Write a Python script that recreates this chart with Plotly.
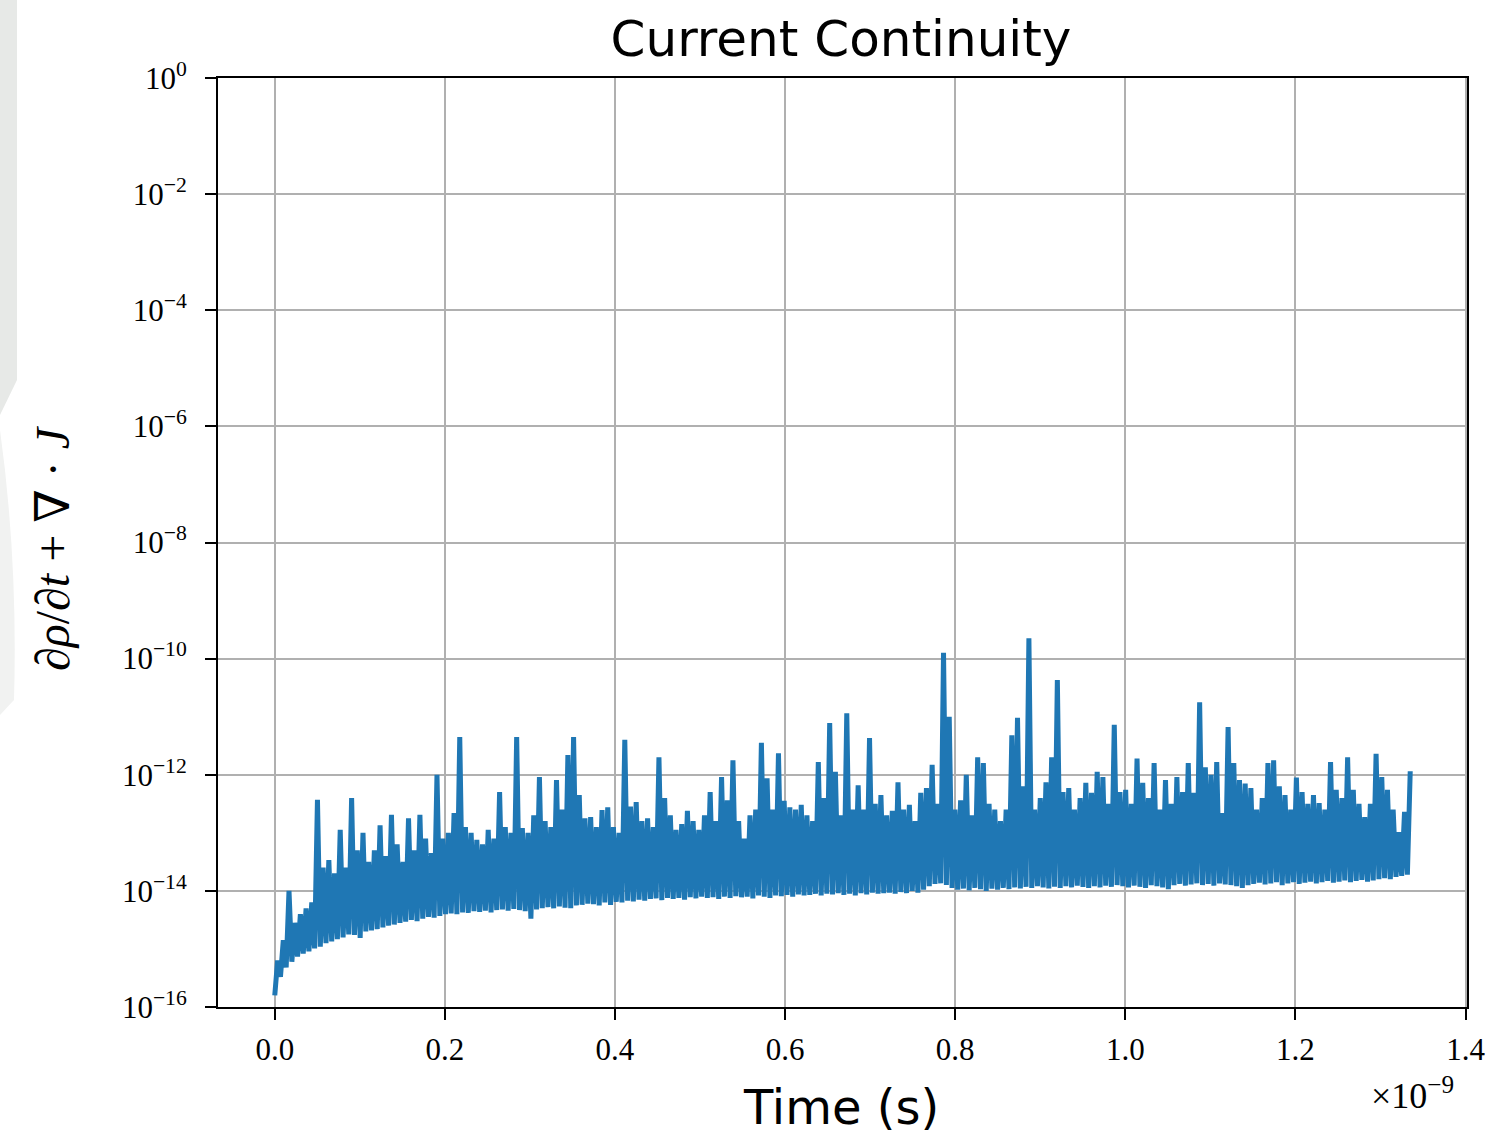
import numpy as np
import plotly.graph_objects as go

# Time span of the simulation (units of 1e-9 s)
t_end_ns = 1.335

# log10 of the residual: alternating lower-band / upper-band samples
low_exp = [
    -15.8, -15.48, -15.32, -15.22, -15.13, -15.08, -15.04, -14.99, -14.96, -14.9,
    -14.87, -14.83, -14.8, -14.75, -14.76, -14.81, -14.7, -14.68, -14.66, -14.63,
    -14.6, -14.58, -14.55, -14.53, -14.5, -14.52, -14.48, -14.45, -14.46, -14.43,
    -14.4, -14.39, -14.4, -14.37, -14.38, -14.35, -14.36, -14.34, -14.37, -14.33,
    -14.32, -14.34, -14.31, -14.33, -14.35, -14.48, -14.32, -14.3, -14.28, -14.3,
    -14.27, -14.29, -14.3, -14.25, -14.24, -14.22, -14.23, -14.25, -14.2, -14.24,
    -14.19, -14.2, -14.17, -14.18, -14.15, -14.17, -14.14, -14.13, -14.16, -14.12,
    -14.14, -14.12, -14.15, -14.11, -14.13, -14.1, -14.12, -14.11, -14.14, -14.1,
    -14.12, -14.09, -14.11, -14.1, -14.13, -14.08, -14.1, -14.12, -14.08, -14.09,
    -14.07, -14.1, -14.06, -14.08, -14.07, -14.05, -14.08, -14.05, -14.06, -14.04,
    -14.07, -14.05, -14.08, -14.04, -14.06, -14.03, -14.05, -14.04, -14.03, -14.05,
    -14.02, -14.04, -14.0, -14.03, -13.98, -13.92, -13.88, -13.87, -13.9, -13.95,
    -13.98, -13.96, -13.99, -13.95, -13.97, -14.0, -13.96, -13.98, -13.95, -13.97,
    -13.94, -13.96, -13.93, -13.95, -13.92, -13.94, -13.96, -13.93, -13.95, -13.92,
    -13.94, -13.91, -13.93, -13.95, -13.92, -13.94, -13.91, -13.93, -13.9, -13.92,
    -13.94, -13.91, -13.93, -13.95, -13.9, -13.92, -13.94, -13.97, -13.9, -13.88,
    -13.91, -13.89, -13.87, -13.9, -13.88, -13.91, -13.87, -13.89, -13.9, -13.92,
    -13.95, -13.9, -13.88, -13.86, -13.89, -13.87, -13.85, -13.9, -13.87, -13.85,
    -13.88, -13.86, -13.84, -13.87, -13.85, -13.83, -13.86, -13.84, -13.82, -13.85,
    -13.83, -13.81, -13.84, -13.82, -13.8, -13.78, -13.8, -13.76, -13.74, -13.72,
]
high_exp = [
    -15.2, -14.85, -14.0, -14.55, -14.4, -14.3, -14.2, -12.43, -13.6, -13.47,
    -13.7, -12.95, -13.6, -12.4, -13.3, -13.0, -13.5, -13.3, -12.87, -13.4,
    -12.69, -13.2, -13.5, -12.75, -13.3, -12.69, -13.1, -13.35, -12.0, -13.1,
    -13.0, -12.66, -11.35, -12.9, -13.0, -13.12, -13.2, -12.95, -13.1, -12.3,
    -12.9, -13.0, -11.35, -12.92, -13.0, -12.7, -12.04, -12.8, -12.9, -12.09,
    -12.6, -11.66, -11.35, -12.35, -12.75, -12.73, -12.9, -12.61, -12.56, -12.9,
    -13.0, -11.4, -12.55, -12.47, -12.8, -12.75, -12.9, -11.7, -12.4, -12.7,
    -12.95, -12.85, -12.62, -12.8, -12.95, -12.7, -12.3, -12.8, -12.04, -12.44,
    -11.75, -12.8, -13.1, -12.7, -12.6, -11.45, -12.06, -12.6, -11.63, -12.45,
    -12.56, -12.6, -12.52, -12.7, -12.8, -11.78, -12.4, -11.11, -11.95, -12.7,
    -10.94, -12.6, -12.18, -12.6, -11.37, -12.5, -12.35, -12.7, -12.62, -12.13,
    -12.6, -12.52, -12.8, -12.31, -12.23, -11.83, -12.5, -9.9, -11.0, -12.6,
    -12.44, -12.0, -12.7, -11.7, -11.8, -12.5, -12.6, -12.8, -12.6, -11.32,
    -11.02, -12.2, -9.65, -12.6, -12.4, -12.13, -11.7, -10.37, -12.3, -12.23,
    -12.6, -12.4, -12.14, -12.31, -11.95, -12.04, -12.5, -11.14, -12.3, -12.26,
    -12.5, -11.72, -12.14, -12.4, -11.8, -12.6, -12.09, -12.5, -12.04, -12.3,
    -11.8, -12.31, -10.75, -11.87, -12.0, -11.78, -12.66, -11.18, -11.8, -12.09,
    -12.15, -12.23, -12.6, -12.4, -11.8, -11.75, -12.2, -12.35, -12.6, -12.05,
    -12.3, -12.5, -12.35, -12.49, -12.6, -11.78, -12.26, -12.4, -11.7, -12.26,
    -12.5, -12.73, -12.5, -11.64, -12.04, -12.26, -12.6, -12.99, -12.64, -11.94,
]

x_tick_vals = [0.0, 0.2, 0.4, 0.6, 0.8, 1.0, 1.2, 1.4]
x_tick_text = ["0.0", "0.2", "0.4", "0.6", "0.8", "1.0", "1.2", "1.4"]
y_tick_exps = [0, -2, -4, -6, -8, -10, -12, -14, -16]

# build series
log_resid = []
for lo, hi in zip(low_exp, high_exp):
    log_resid.append(lo)
    log_resid.append(hi)
resid = [10.0 ** v for v in log_resid]
time_ns = np.linspace(0.0, t_end_ns, len(resid))

# figure geometry (pixels)
W, H = 1487, 1139
L, R, T, B = 218, 1467, 78, 1007

def px(xp):
    return (xp - L) / (R - L)

def py(yp):
    return (B - yp) / (B - T)

fig = go.Figure()
fig.add_trace(go.Scatter(
    x=time_ns, y=resid, mode="lines",
    line=dict(color="#1f77b4", width=5),
    showlegend=False, hoverinfo="skip",
))

xpad = 0.05 * t_end_ns
serif = "Liberation Serif, DejaVu Serif, serif"
sans = "DejaVu Sans, Open Sans, sans-serif"

fig.update_layout(
    width=W, height=H,
    margin=dict(l=L, r=W - R, t=T, b=H - B, pad=0, autoexpand=False),
    paper_bgcolor="white", plot_bgcolor="white",
    title=dict(text="Current Continuity", x=px(841), xref="paper", xanchor="center",
               y=1 - 38 / H, yref="container", yanchor="middle",
               font=dict(family=sans, size=50, color="black")),
    xaxis=dict(
        range=[-xpad, t_end_ns + xpad], automargin=False,
        tickvals=x_tick_vals, ticktext=x_tick_text,
        tickfont=dict(family=serif, size=31, color="black"),
        ticks="outside", ticklen=11, tickwidth=1.5, tickcolor="black",
        ticklabelstandoff=3,
        showgrid=True, gridcolor="#b0b0b0", gridwidth=1.5,
        showline=True, linecolor="black", linewidth=2, mirror=True,
        zeroline=False,
    ),
    yaxis=dict(
        type="log", range=[-16, 0], automargin=False,
        tickvals=[10.0 ** e for e in y_tick_exps],
        ticktext=["10<sup>%s</sup>" % (str(e) if e >= 0 else "\u2212" + str(-e)) for e in y_tick_exps],
        tickfont=dict(family=serif, size=31, color="black"),
        ticks="outside", ticklen=11, tickwidth=1.5, tickcolor="black",
        ticklabelstandoff=12,
        showgrid=True, gridcolor="#b0b0b0", gridwidth=1.5,
        showline=True, linecolor="black", linewidth=2, mirror=True,
        zeroline=False, minor=dict(showgrid=False, ticks=""),
    ),
)

# x axis title
fig.add_annotation(text="Time (s)", xref="paper", yref="paper",
                   x=px(841), y=py(1107), xanchor="center", yanchor="middle",
                   showarrow=False, font=dict(family=sans, size=48, color="black"))
# y axis title
fig.add_annotation(text="<i>\u2202\u03c1</i>/<i>\u2202t</i> + \u2207 \u00b7 <i>J</i>",
                   xref="paper", yref="paper", x=px(52), y=py(548),
                   xanchor="center", yanchor="middle", textangle=-90,
                   showarrow=False, font=dict(family=serif, size=48, color="black"))
# offset text
fig.add_annotation(text="\u00d710<sup>\u22129</sup>", xref="paper", yref="paper",
                   x=px(1412), y=py(1093), xanchor="center", yanchor="middle",
                   showarrow=False, font=dict(family=serif, size=36, color="black"))

# light grey page edge at the left
fig.add_shape(type="path", xref="paper", yref="paper", layer="below",
              path="M %f %f L %f %f L %f %f L %f %f Z" % (px(0), py(0), px(17), py(0), px(17), py(380), px(0), py(415)),
              fillcolor="#e7e9e7", line=dict(width=0))
fig.add_shape(type="path", xref="paper", yref="paper", layer="below",
              path="M %f %f Q %f %f %f %f L %f %f Z" % (px(0), py(430), px(18), py(560), px(14), py(700), px(0), py(715)),
              fillcolor="#f1f2f1", line=dict(width=0))

fig.write_html("out.html")
